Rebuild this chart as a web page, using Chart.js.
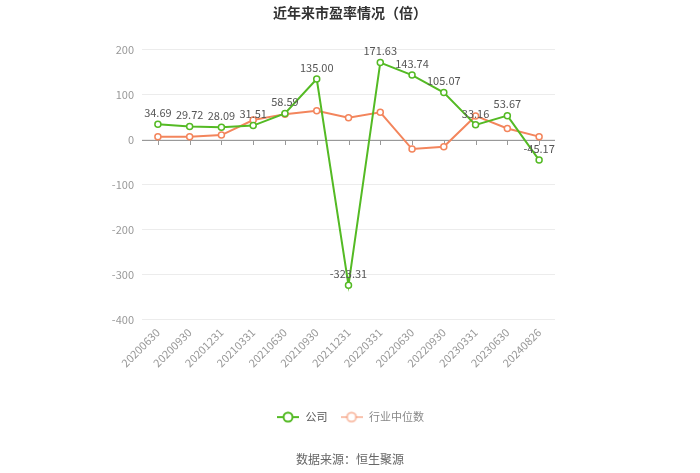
<!DOCTYPE html>
<html>
<head>
<meta charset="utf-8">
<script src="https://cdn.jsdelivr.net/npm/chart.js@4.4.1/dist/chart.umd.min.js"></script>
<style>
  html, body { margin: 0; padding: 0; background: #fff; }
  #wrap { width: 700px; height: 473px; }
</style>
</head>
<body>
<div id="wrap"><canvas id="pe" width="700" height="473"></canvas></div>
<script>
const dates = ["20200630", "20200930", "20201231", "20210331", "20210630", "20210930",
  "20211231", "20220331", "20220630", "20220930", "20230331", "20230630", "20240826"];
const companyPE = [34.69, 29.72, 28.09, 31.51, 58.59, 135.00, -323.31, 171.63, 143.74, 105.07, 33.16, 53.67, -45.17];
const industryPE = [7, 7, 10.5, 44, 57, 64.5, 49, 61, -20.7, -15.5, 53, 25, 7];
const yTicks = [-400, -300, -200, -100, 0, 100, 200];

const green = "rgb(84,186,36)";
const orange = "rgb(243,133,92)";
const font = "'Noto Sans CJK SC', 'Noto Sans', sans-serif";

function legendIcon(color) {
  const c = document.createElement("canvas");
  c.width = 22; c.height = 12;
  const g = c.getContext("2d");
  g.strokeStyle = color; g.lineWidth = 2;
  g.beginPath(); g.moveTo(0, 6); g.lineTo(22, 6); g.stroke();
  g.fillStyle = "#fff";
  g.beginPath(); g.arc(11, 6, 4.5, 0, Math.PI * 2); g.fill(); g.stroke();
  return c;
}

// zero line with small ticks under each category
const zeroAxis = {
  id: "zeroAxis",
  beforeDatasetsDraw(chart) {
    const { ctx, scales: { x, y } } = chart;
    const y0 = Math.round(y.getPixelForValue(0));
    ctx.save();
    ctx.strokeStyle = "#999";
    ctx.lineWidth = 1;
    ctx.beginPath();
    ctx.moveTo(chart.chartArea.left, y0 + 0.5);
    ctx.lineTo(chart.chartArea.right, y0 + 0.5);
    dates.forEach((d, i) => {
      const px = Math.round(x.getPixelForValue(i)) + 0.5;
      ctx.moveTo(px, y0);
      ctx.lineTo(px, y0 + 5);
    });
    ctx.stroke();
    ctx.restore();
  }
};

// value labels above the company points
const valueLabels = {
  id: "valueLabels",
  afterDatasetsDraw(chart) {
    const { ctx } = chart;
    const meta = chart.getDatasetMeta(0);
    ctx.save();
    ctx.font = "11px " + font;
    ctx.fillStyle = "#555";
    ctx.textAlign = "center";
    ctx.textBaseline = "bottom";
    meta.data.forEach((pt, i) => {
      ctx.fillText(companyPE[i].toFixed(2), pt.x, pt.y - 6);
    });
    ctx.restore();
  }
};

new Chart(document.getElementById("pe").getContext("2d"), {
  type: "line",
  data: {
    labels: dates,
    datasets: [
      {
        label: "公司",
        data: companyPE,
        borderColor: green,
        backgroundColor: "#fff",
        borderWidth: 2,
        pointRadius: 3,
        pointBorderWidth: 1.5,
        pointBackgroundColor: "#fff",
        pointBorderColor: green,
        tension: 0,
      },
      {
        label: "行业中位数",
        data: industryPE,
        borderColor: orange,
        backgroundColor: "#fff",
        borderWidth: 2,
        pointRadius: 3,
        pointBorderWidth: 1.5,
        pointBackgroundColor: "#fff",
        pointBorderColor: orange,
        tension: 0,
      },
    ],
  },
  options: {
    responsive: false,
    animation: false,
    layout: { padding: { left: 0, right: 0, top: 2, bottom: 4 } },
    plugins: {
      title: {
        display: true,
        text: "近年来市盈率情况（倍）",
        color: "#333",
        font: { family: font, size: 14, weight: "bold" },
        padding: { top: 2, bottom: 29 },
      },
      subtitle: {
        display: true,
        position: "bottom",
        text: "数据来源：恒生聚源",
        color: "#666",
        font: { family: font, size: 12 },
        padding: { top: 20, bottom: 2 },
      },
      legend: {
        position: "bottom",
        labels: {
          usePointStyle: true,
          pointStyleWidth: 24,
          font: { family: font, size: 11 },
          padding: 12,
          generateLabels() {
            return [
              { text: "公司", pointStyle: legendIcon(green), fontColor: "#555", datasetIndex: 0, lineWidth: 0, strokeStyle: "transparent", fillStyle: "transparent" },
              { text: "行业中位数", pointStyle: legendIcon("rgba(243,133,92,0.5)"), fontColor: "#888", datasetIndex: 1, lineWidth: 0, strokeStyle: "transparent", fillStyle: "transparent" },
            ];
          },
        },
      },
      tooltip: { enabled: false },
    },
    scales: {
      x: {
        offset: true,
        grid: { display: false, drawTicks: false },
        border: { display: false },
        afterFit(axis) { axis.height += 24; },
        ticks: {
          color: "#999",
          font: { family: font, size: 11 },
          maxRotation: 45,
          minRotation: 45,
          padding: 6,
          autoSkip: false,
        },
      },
      y: {
        min: -400,
        max: 200,
        afterBuildTicks(axis) {
          axis.ticks = yTicks.map(v => ({ value: v }));
        },
        afterFit(axis) { axis.width = 142; },
        grid: { color: "#ececec", drawTicks: false },
        border: { display: false },
        ticks: {
          color: "#999",
          font: { family: font, size: 11 },
          padding: 8,
        },
      },
      yRight: {
        position: "right",
        display: true,
        grid: { display: false, drawTicks: false },
        border: { display: false },
        ticks: { display: false },
        afterFit(axis) { axis.width = 145; },
      },
    },
  },
  plugins: [zeroAxis, valueLabels],
});
</script>
</body>
</html>
